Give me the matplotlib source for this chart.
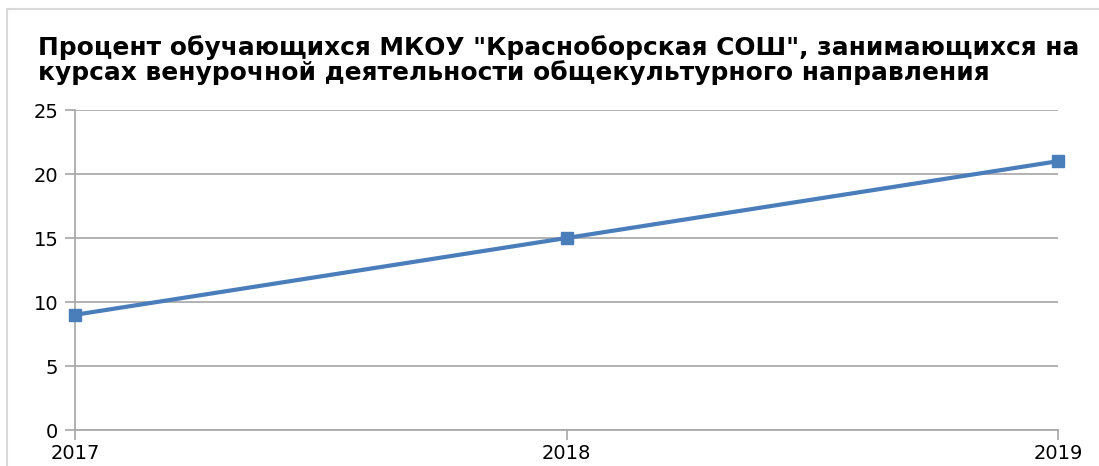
import matplotlib
matplotlib.use("Agg")
import matplotlib.pyplot as plt
from matplotlib.patches import Rectangle

years = ["2017", "2018", "2019"]
values = [9, 15, 21]
yticks = [0, 5, 10, 15, 20, 25]
title = 'Процент обучающихся МКОУ "Красноборская СОШ", занимающихся на\nкурсах венурочной деятельности общекультурного направления'

W, H = 1099, 466
fig = plt.figure(figsize=(W / 100, H / 100), dpi=100)
fig.patch.set_facecolor("white")

# outer chart border
fig.patches.append(Rectangle((7 / W, -0.1), 1.2, 1 - 9 / H + 0.1, transform=fig.transFigure,
                             fill=False, edgecolor="#d9d9d9", linewidth=1.5))

ax = fig.add_axes([75 / W, 1 - 430 / H, (1058 - 75) / W, (430 - 110) / H])
x = list(range(len(years)))
ax.plot(x, values, color="#4A7EBB", linewidth=3, marker="s", markersize=8,
        markerfacecolor="#4A7EBB", markeredgecolor="#4A7EBB", clip_on=False, zorder=3)

ax.set_xlim(0, len(years) - 1)
ax.set_ylim(0, 25)
ax.set_yticks(yticks)
ax.set_xticks(x)
ax.set_xticklabels(years)
ax.yaxis.grid(True, color="#a6a6a6", linewidth=1.2)
ax.set_axisbelow(True)
for s in ["top", "right"]:
    ax.spines[s].set_visible(False)
for s in ["left", "bottom"]:
    ax.spines[s].set_color("#a6a6a6")
    ax.spines[s].set_linewidth(1.2)
ax.tick_params(axis="both", colors="#a6a6a6", width=1.2, length=7, labelcolor="black",
               labelsize=14)
ax.tick_params(axis="y", pad=5)
ax.tick_params(axis="x", pad=3)

fig.text(38 / W, 1 - 35 / H, title, ha="left", va="top", fontsize=17.9, fontweight="bold",
         family="DejaVu Sans", linespacing=1.0)

fig.savefig("out.png", dpi=100)
